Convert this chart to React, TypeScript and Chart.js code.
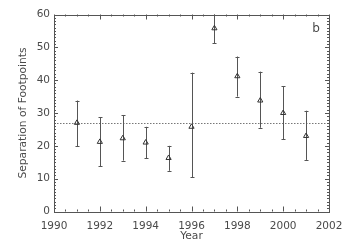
import React, { useEffect, useRef } from "react";
import { Chart, registerables } from "chart.js";

Chart.register(...registerables);

const years = [1991, 1992, 1993, 1994, 1995, 1996, 1997, 1998, 1999, 2000, 2001];
const separation = [27, 21.2, 22.3, 21, 16.3, 25.8, 55.8, 41.2, 33.8, 30, 23];
const errLow = [19.8, 13.8, 15.5, 16.2, 12.4, 10.4, 51.2, 35, 25.5, 22, 15.7];
const errHigh = [33.8, 28.7, 29.4, 25.8, 20, 42.3, 61, 47.2, 42.6, 38.2, 30.7];
const meanSeparation = 27;
const xTicks = [1990, 1992, 1994, 1996, 1998, 2000, 2002];
const yTicks = [0, 10, 20, 30, 40, 50, 60];

const AXIS = "#555";
const TEXT = "#4a4a4a";
const FONT = "'DejaVu Sans', sans-serif";

const decorPlugin = {
  id: "decor",
  beforeDatasetsDraw(chart: any) {
    const { ctx, chartArea: a, scales } = chart;
    const x = scales.x, y = scales.y;
    ctx.save();
    ctx.strokeStyle = "#777";
    ctx.lineWidth = 1;
    ctx.setLineDash([1.5, 1.5]);
    const my = Math.round(y.getPixelForValue(meanSeparation)) + 0.5;
    ctx.beginPath();
    ctx.moveTo(a.left, my);
    ctx.lineTo(a.right, my);
    ctx.stroke();
    ctx.setLineDash([]);
    ctx.beginPath();
    ctx.rect(a.left, a.top, a.right - a.left, a.bottom - a.top);
    ctx.clip();
    ctx.strokeStyle = "#555";
    for (let i = 0; i < years.length; i++) {
      const px = Math.round(x.getPixelForValue(years[i])) + 0.5;
      const t = y.getPixelForValue(errHigh[i]);
      const b = y.getPixelForValue(errLow[i]);
      ctx.beginPath();
      ctx.moveTo(px, t);
      ctx.lineTo(px, b);
      ctx.moveTo(px - 2, Math.round(t) + 0.5);
      ctx.lineTo(px + 2, Math.round(t) + 0.5);
      ctx.moveTo(px - 2, Math.round(b) + 0.5);
      ctx.lineTo(px + 2, Math.round(b) + 0.5);
      ctx.stroke();
    }
    ctx.restore();
  },
  afterDraw(chart: any) {
    const { ctx, chartArea: a, scales } = chart;
    const x = scales.x, y = scales.y;
    ctx.save();
    ctx.strokeStyle = AXIS;
    ctx.lineWidth = 1;
    ctx.strokeRect(Math.round(a.left) + 0.5, Math.round(a.top) + 0.5, Math.round(a.right - a.left), Math.round(a.bottom - a.top));
    ctx.beginPath();
    for (let v = 0; v <= 60; v += 1) {
      const py = Math.round(y.getPixelForValue(v)) + 0.5;
      const len = v % 10 === 0 ? 4 : 2;
      ctx.moveTo(a.left, py);
      ctx.lineTo(a.left + len, py);
      ctx.moveTo(a.right, py);
      ctx.lineTo(a.right - len, py);
    }
    for (let v = 1990; v <= 2002; v += 0.5) {
      const px = Math.round(x.getPixelForValue(v)) + 0.5;
      const len = (v - 1990) % 2 === 0 ? 5 : 2;
      ctx.moveTo(px, a.bottom);
      ctx.lineTo(px, a.bottom - len);
      ctx.moveTo(px, a.top);
      ctx.lineTo(px, a.top + len);
    }
    ctx.stroke();
    ctx.fillStyle = TEXT;
    ctx.font = `10.7px ${FONT}`;
    ctx.textAlign = "center";
    ctx.textBaseline = "middle";
    ctx.fillText("Year", (a.left + a.right) / 2, 236.5);
    ctx.save();
    ctx.translate(23.5, (a.top + a.bottom) / 2);
    ctx.rotate(-Math.PI / 2);
    ctx.fillText("Separation of Footpoints", 0, 0);
    ctx.restore();
    ctx.font = `12px ${FONT}`;
    ctx.fillText("b", 316, 29);
    ctx.restore();
  },
};

export default function App() {
  const ref = useRef<HTMLCanvasElement | null>(null);
  useEffect(() => {
    if (!ref.current) return;
    const chart = new Chart(ref.current, {
      type: "scatter",
      data: {
        datasets: [
          {
            label: "Separation",
            data: years.map((yr, i) => ({ x: yr, y: separation[i] })),
            pointStyle: "triangle",
            pointRadius: 3,
            borderColor: "#333",
            backgroundColor: "rgba(0,0,0,0)",
            borderWidth: 1,
            showLine: false,
          },
        ],
      },
      options: {
        animation: false,
        responsive: false,
        maintainAspectRatio: false,
        layout: { padding: { top: 14.5, right: 34, left: 0, bottom: 0 } },
        plugins: { legend: { display: false }, tooltip: { enabled: false } },
        scales: {
          x: {
            type: "linear",
            min: 1990,
            max: 2002,
            afterBuildTicks: (s: any) => {
              s.ticks = xTicks.map((v) => ({ value: v }));
            },
            afterFit: (s: any) => {
              s.height = 36.5;
            },
            grid: { display: false, drawTicks: false },
            border: { display: false },
            ticks: {
              color: TEXT,
              font: { family: FONT, size: 10.5 },
              padding: 8,
              maxRotation: 0,
              autoSkip: false,
              callback: (v: any) => String(v),
            },
          },
          y: {
            type: "linear",
            min: 0,
            max: 60,
            afterBuildTicks: (s: any) => {
              s.ticks = yTicks.map((v) => ({ value: v }));
            },
            afterFit: (s: any) => {
              s.width = 54;
            },
            grid: { display: false, drawTicks: false },
            border: { display: false },
            ticks: {
              color: TEXT,
              font: { family: FONT, size: 10.5 },
              padding: 4,
              autoSkip: false,
              callback: (v: any) => String(v),
            },
          },
        },
      },
      plugins: [decorPlugin],
    });
    return () => chart.destroy();
  }, []);
  return (
    <div style={{ position: "fixed", left: 0, top: 0, width: 363, height: 248, background: "#fff" }}>
      <canvas ref={ref} width={363} height={248} style={{ width: 363, height: 248 }} />
    </div>
  );
}
